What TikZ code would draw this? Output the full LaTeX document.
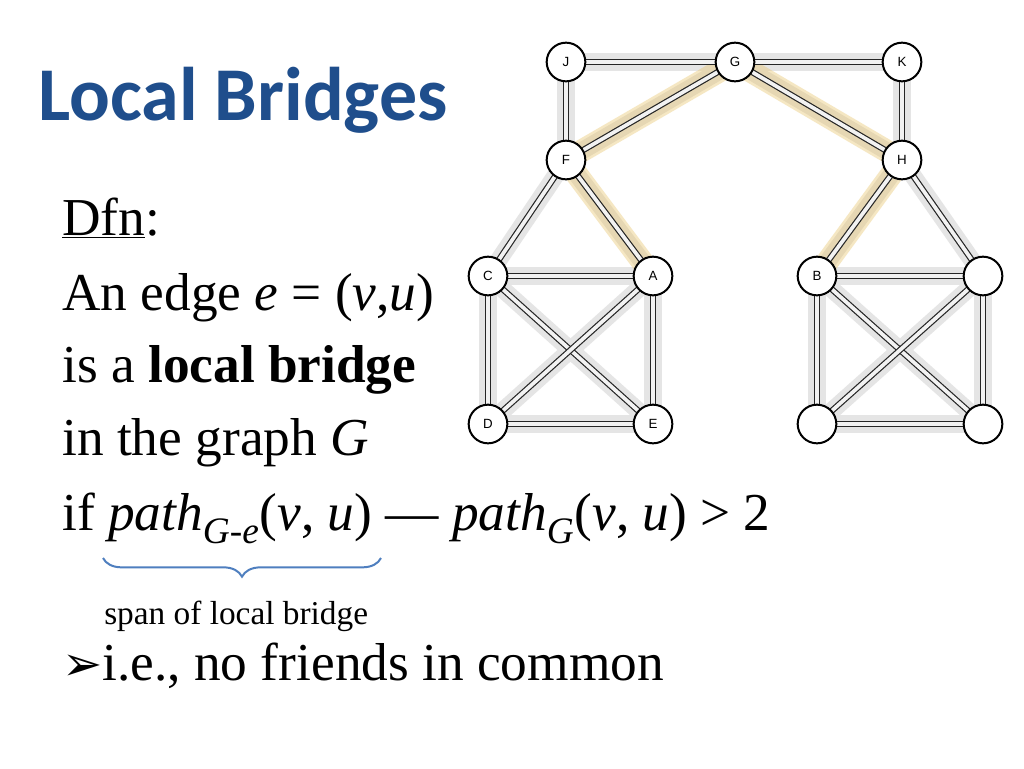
\documentclass[tikz,border=0pt]{standalone}
\usepackage{fontspec}
\setmainfont{Liberation Serif}
\newfontfamily\titlefont{Carlito}
\newfontfamily\labfont{Liberation Sans}
\newfontfamily\symfont{DejaVu Sans}
\usetikzlibrary{decorations.pathreplacing}
\definecolor{titleblue}{HTML}{1F4E8C}
\definecolor{bracecol}{HTML}{4F7FBF}
\definecolor{hl}{HTML}{E8C46A}
\begin{document}
\begin{tikzpicture}[x=0.75pt,y=-0.75pt,
  vtx/.style={circle,draw=black,line width=1.5pt,fill=white,minimum size=29pt,inner sep=0pt,font=\labfont\fontsize{10}{12}\selectfont},
  halo/.style={line width=13pt,draw=black!10,line cap=round},
  edg/.style={draw=black!85,line width=0.9pt,double=black!5,double distance=2.8pt},
  hilite/.style={line width=17pt,draw=hl,opacity=0.4,line cap=round},
  body/.style={anchor=base west,inner sep=0pt,font=\fontsize{40}{46}\selectfont}]
\useasboundingbox (0,0) rectangle (1024,768);
\fill[white] (0,0) rectangle (1024,768);
\coordinate (J) at (566,62); \coordinate (G) at (735,62); \coordinate (K) at (902,62);
\coordinate (F) at (566,160); \coordinate (H) at (902,160);
\coordinate (C) at (488,276); \coordinate (A) at (653,276);
\coordinate (B) at (817,276); \coordinate (R) at (983,276);
\coordinate (D) at (488,424); \coordinate (E) at (653,424);
\coordinate (BL) at (817,424); \coordinate (BR) at (983,424);
\foreach \a/\b in {J/G,G/K,J/F,K/H,F/G,G/H,F/A,H/B,F/C,H/R,C/A,C/D,A/E,D/E,C/E,A/D,B/R,B/BL,R/BR,BL/BR,B/BR,R/BL}
  \draw[halo] (\a) -- (\b);
\foreach \a/\b in {F/G,G/H,F/A,H/B} \draw[hilite] (\a) -- (\b);
\foreach \a/\b in {J/G,G/K,J/F,K/H,F/G,G/H,F/A,H/B,F/C,H/R,C/A,C/D,A/E,D/E,C/E,A/D,B/R,B/BL,R/BR,BL/BR,B/BR,R/BL}
  \draw[edg] (\a) -- (\b);
\foreach \p/\t in {J/J,G/G,K/K,F/F,H/H,C/C,A/A,B/B,R/,D/D,E/E,BL/,BR/}{
  \fill[black!12] (\p) circle (15pt);
  \node[vtx] (n\p) at (\p) {\t};}
\node[anchor=base west,inner sep=0pt,text=titleblue,font=\titlefont\bfseries\fontsize{57}{64}\selectfont] (title) at (38,120) {Local Bridges};
\node[body] (l1) at (62,235) {\underline{Dfn}:};
\node[body] (l2) at (62,310) {An edge \textit{e} = (\textit{v},\textit{u})};
\node[body] (l3) at (62,382) {is a \textbf{local bridge}};
\node[body] (l4) at (62,455) {in the graph \textit{G}};
\node[body] (l5) at (62,530) {if \textit{path}\textsubscript{\textit{G-e}}(\textit{v}, \textit{u}) — \textit{path}\textsubscript{\textit{G}}(\textit{v}, \textit{u}) {>} 2};
\coordinate (bl) at (103,558); \coordinate (br) at (381,558);
\draw[bracecol,line width=1.5pt,decorate,decoration={brace,mirror,amplitude=14pt}] (bl) -- (br);
\node[anchor=base west,inner sep=0pt,font=\fontsize{25}{30}\selectfont] (span) at (104,624) {span of local bridge};
\node[body] (l6) at (62,680) {{\symfont\fontsize{36}{40}\selectfont ➢}i.e., no friends in common};
\end{tikzpicture}
\end{document}
